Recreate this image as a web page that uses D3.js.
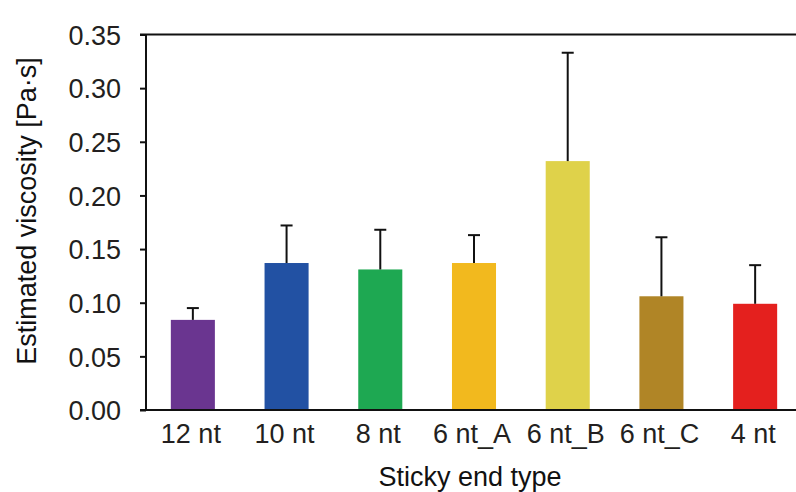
<!DOCTYPE html>
<html>
<head>
<meta charset="utf-8">
<script src="https://cdn.jsdelivr.net/npm/d3@7"></script>
<style>
  html, body { margin: 0; padding: 0; background: #fff; }
  svg { display: block; font-family: "Liberation Sans", Arial, sans-serif; }
</style>
</head>
<body>
<svg id="chart" width="796" height="492"></svg>
<script>
// Sticky end types and their estimated viscosity (mean and standard deviation)
const categories = ["12 nt", "10 nt", "8 nt", "6 nt_A", "6 nt_B", "6 nt_C", "4 nt"];
const means      = [0.084, 0.137, 0.131, 0.137, 0.232, 0.106, 0.099];
const errors     = [0.011, 0.035, 0.037, 0.026, 0.101, 0.055, 0.036];
const colors     = ["#6a3590", "#2251a3", "#1ea852", "#f2b91e", "#dfd24a", "#b08526", "#e4201e"];
const yTicks     = [0, 0.05, 0.10, 0.15, 0.20, 0.25, 0.30, 0.35];

const svg = d3.select("#chart");
const plotLeft = 146, plotRight = 802, plotTop = 34.5, plotBottom = 410;
const fontSize = 27;

const x = d3.scaleBand().domain(categories).range([plotLeft, plotRight]).paddingInner(0.53).paddingOuter(0.265);
const y = d3.scaleLinear().domain([0, 0.35]).range([plotBottom, plotTop]);

const data = categories.map((c, i) => ({ c, m: means[i], e: errors[i], col: colors[i] }));

// bars
svg.append("g").selectAll("rect").data(data).join("rect")
  .attr("x", d => x(d.c))
  .attr("y", d => y(d.m))
  .attr("width", x.bandwidth())
  .attr("height", d => y(0) - y(d.m))
  .attr("fill", d => d.col);

// upper error bars
const eb = svg.append("g").attr("stroke", "#111").attr("stroke-width", 2);
eb.selectAll("line.v").data(data).join("line").attr("class", "v")
  .attr("x1", d => x(d.c) + x.bandwidth() / 2)
  .attr("x2", d => x(d.c) + x.bandwidth() / 2)
  .attr("y1", d => y(d.m))
  .attr("y2", d => y(d.m + d.e));
eb.selectAll("line.cap").data(data).join("line").attr("class", "cap")
  .attr("x1", d => x(d.c) + x.bandwidth() / 2 - 6)
  .attr("x2", d => x(d.c) + x.bandwidth() / 2 + 6)
  .attr("y1", d => y(d.m + d.e))
  .attr("y2", d => y(d.m + d.e));

// y axis
const yAxis = svg.append("g").attr("transform", `translate(${plotLeft},0)`)
  .call(d3.axisLeft(y).tickValues(yTicks).tickFormat(d3.format(".2f")).tickSize(6).tickPadding(19));
yAxis.select(".domain").remove();
yAxis.selectAll(".tick line").attr("stroke", "#111").attr("stroke-width", 2);
yAxis.selectAll("text").attr("font-size", fontSize).attr("fill", "#231f20").attr("dy", "0.36em");
svg.append("line").attr("x1", plotLeft).attr("x2", plotLeft).attr("y1", plotTop).attr("y2", plotBottom)
  .attr("stroke", "#111").attr("stroke-width", 2);

// top frame line and baseline
svg.append("line").attr("x1", plotLeft - 6).attr("x2", 796).attr("y1", plotTop).attr("y2", plotTop)
  .attr("stroke", "#111").attr("stroke-width", 2);
svg.append("line").attr("x1", plotLeft - 6).attr("x2", 796).attr("y1", plotBottom).attr("y2", plotBottom)
  .attr("stroke", "#111").attr("stroke-width", 2);

// x axis labels
const xAxis = svg.append("g").attr("transform", `translate(0,${plotBottom})`)
  .call(d3.axisBottom(x).tickSize(0).tickPadding(14));
xAxis.select(".domain").remove();
xAxis.selectAll("text").attr("font-size", fontSize).attr("fill", "#231f20").attr("dx", "-2");

// axis titles
svg.append("text").attr("x", 470).attr("y", 486).attr("text-anchor", "middle")
  .attr("font-size", fontSize).attr("fill", "#111").text("Sticky end type");
svg.append("text").attr("transform", "translate(36,211) rotate(-90)").attr("text-anchor", "middle")
  .attr("font-size", fontSize).attr("fill", "#111").text("Estimated viscosity [Pa·s]");
</script>
</body>
</html>
